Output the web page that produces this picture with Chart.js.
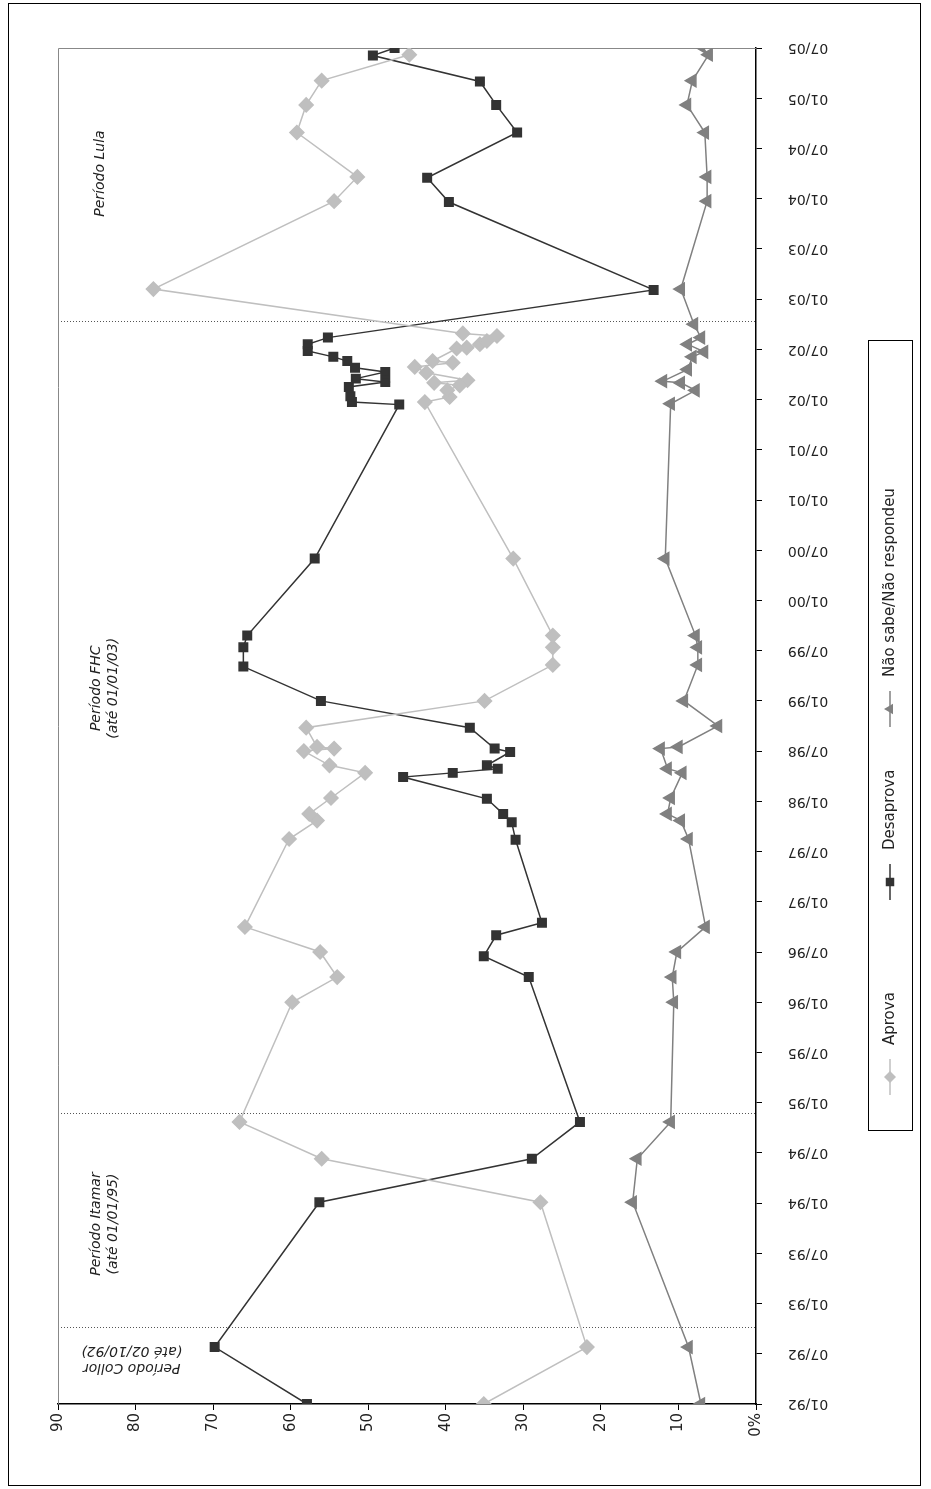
<!DOCTYPE html>
<html>
<head>
<meta charset="utf-8">
<script src="https://cdn.jsdelivr.net/npm/chart.js@4"></script>
<style>
  html, body { margin: 0; padding: 0; background: #fff; }
  #wrap { width: 931px; height: 1489px; position: relative; }
</style>
</head>
<body>
<div id="wrap"><canvas id="grafico"></canvas></div>
<script>
// meses contados a partir de 01/92
const mesesAprova = [0, 6.8, 24.1, 29.3, 33.7, 48, 51, 54, 57, 67.5, 69.7, 70.5, 72.4, 75.4, 76.3, 78, 78.3, 78.5, 80.8, 84, 88.3, 90.4, 91.8, 101,
  119.7, 120.3, 121.1, 121.7, 122, 122.3, 123.2, 123.9, 124.4, 124.6, 126.1, 126.2, 126.6, 127, 127.6, 127.9, 133.2, 143.7, 146.6, 151.9, 155.2, 158.1, 161.2];
const aprova = [35.1, 21.8, 27.8, 56, 66.6, 59.8, 54, 56.2, 65.9, 60.2, 56.6, 57.6, 54.8, 50.4, 55, 58.3, 54.4, 56.6, 58, 35, 26.2, 26.2, 26.2, 31.3,
  42.7, 39.5, 39.8, 38.2, 41.5, 37.2, 42.5, 44, 39.1, 41.7, 38.6, 37.3, 35.6, 34.7, 33.4, 37.8, 77.7, 54.4, 51.4, 59.2, 58, 56, 44.7];

const mesesDesaprova = [0, 6.8, 24.1, 29.3, 33.7, 51, 53.5, 56, 57.5, 67.4, 69.5, 70.5, 72.3, 74.9, 75.4, 75.9, 76.3, 77.9, 78.3, 80.8, 84, 88.1, 90.4, 91.8, 101,
  119.4, 119.7, 120.4, 121.5, 122.1, 122.5, 123.3, 123.8, 124.6, 125.1, 125.8, 126.6, 127.4, 133.1, 143.6, 146.5, 151.9, 155.2, 158, 161.1, 162];
const desaprova = [57.9, 69.8, 56.3, 28.9, 22.7, 29.3, 35.1, 33.5, 27.6, 31, 31.5, 32.6, 34.7, 45.5, 39.1, 33.3, 34.7, 31.7, 33.7, 36.9, 56.1, 66.1, 66.1, 65.6, 56.9,
  46, 52.1, 52.3, 52.5, 47.8, 51.6, 47.8, 51.7, 52.7, 54.5, 57.8, 57.8, 55.2, 13.2, 39.6, 42.4, 30.8, 33.5, 35.6, 49.4, 46.6];

const mesesNaoSabe = [0, 6.8, 24.1, 29.3, 33.7, 48, 51, 54, 57, 67.5, 69.7, 70.5, 72.4, 75.4, 75.9, 78.3, 78.5, 81, 84, 88.3, 90.4, 91.8, 101,
  119.5, 121.1, 122, 122.2, 123.6, 125.1, 125.7, 126.6, 127.4, 129, 133.2, 143.7, 146.6, 151.9, 155.2, 158.1, 161.2, 162.2];
const naoSabe = [7.1, 8.7, 15.9, 15.3, 11, 10.6, 10.8, 10.2, 6.5, 8.7, 9.7, 11.4, 11, 9.5, 11.4, 12.3, 10, 4.9, 9.3, 7.5, 7.5, 7.8, 11.7,
  11, 7.8, 9.7, 12, 8.8, 8.2, 6.7, 8.8, 7.1, 8, 9.7, 6.3, 6.3, 6.6, 8.9, 8.2, 6.1, 7.1];

const rotulosDatas = [];
for (let a = 92; a <= 105; a++) {
  const aa = String(a % 100).padStart(2, '0');
  rotulosDatas.push('01/' + aa, '07/' + aa);
}
const limitesPeriodos = [9.2, 34.8, 129.4];
const periodos = [
  { linhas: ['Período Collor', '(até 02/10/92)'], mes: 5.3, valor: 80.5, giro: Math.PI },
  { linhas: ['Período Itamar', '(até 01/01/95)'], mes: 21.5, valor: 84, giro: -Math.PI / 2 },
  { linhas: ['Período FHC', '(até 01/01/03)'], mes: 85.5, valor: 84, giro: -Math.PI / 2 },
  { linhas: ['Período Lula'], mes: 147, valor: 84.5, giro: -Math.PI / 2 }
];

const juntar = (meses, vals) => meses.map((m, i) => ({ x: vals[i], y: m }));

const COR_APROVA = '#bfbfbf', COR_DESAPROVA = '#333333', COR_NS = '#808080';

const decoracao = {
  id: 'decoracao',
  beforeDatasetsDraw(chart) {
    const { ctx, chartArea: ca, scales } = chart;
    ctx.save();
    // linhas dos períodos
    ctx.strokeStyle = '#555';
    ctx.lineWidth = 1;
    ctx.setLineDash([1, 2]);
    limitesPeriodos.forEach(m => {
      const y = Math.round(scales.y.getPixelForValue(m)) + 0.5;
      ctx.beginPath(); ctx.moveTo(ca.left, y); ctx.lineTo(ca.right, y); ctx.stroke();
    });
    ctx.setLineDash([]);
    // moldura
    ctx.strokeStyle = '#888';
    ctx.beginPath();
    ctx.moveTo(ca.left + 0.5, ca.bottom); ctx.lineTo(ca.left + 0.5, ca.top + 0.5); ctx.lineTo(ca.right, ca.top + 0.5);
    ctx.stroke();
    ctx.strokeStyle = '#000';
    ctx.strokeRect(8.5, 3.5, 912, 1482);
    ctx.restore();
  },
  afterDraw(chart) {
    const { ctx, chartArea: ca, scales } = chart;
    ctx.save();
    // rótulos das datas (de cabeça para baixo)
    ctx.fillStyle = '#222';
    ctx.font = '14px "DejaVu Sans"';
    ctx.textAlign = 'center';
    ctx.textBaseline = 'middle';
    rotulosDatas.forEach((t, i) => {
      const y = scales.y.getPixelForValue(i * 6);
      ctx.save();
      ctx.translate(ca.right + 52, y);
      ctx.rotate(Math.PI);
      ctx.fillText(t, 0, 0);
      ctx.restore();
    });
    // textos dos períodos
    ctx.font = 'italic 14px "DejaVu Sans"';
    periodos.forEach(p => {
      ctx.save();
      ctx.translate(scales.x.getPixelForValue(p.valor), scales.y.getPixelForValue(p.mes));
      ctx.rotate(p.giro);
      p.linhas.forEach((l, k) => ctx.fillText(l, 0, (k - (p.linhas.length - 1) / 2) * 17));
      ctx.restore();
    });
    // legenda
    ctx.strokeStyle = '#000';
    ctx.lineWidth = 1;
    ctx.strokeRect(868.5, 340.5, 44, 790);
    ctx.font = '15px "DejaVu Sans"';
    ctx.textAlign = 'left';
    const itens = [
      { nome: 'Aprova', cor: COR_APROVA, estilo: 'rectRot', y0: 1095 },
      { nome: 'Desaprova', cor: COR_DESAPROVA, estilo: 'rect', y0: 900 },
      { nome: 'Não sabe/Não respondeu', cor: COR_NS, estilo: 'triangle', y0: 727 }
    ];
    itens.forEach(it => {
      const cx = 890;
      ctx.strokeStyle = it.cor; ctx.lineWidth = 1.5;
      ctx.beginPath(); ctx.moveTo(cx, it.y0); ctx.lineTo(cx, it.y0 - 36); ctx.stroke();
      ctx.fillStyle = it.cor;
      Chart.helpers.drawPoint(ctx, { pointStyle: it.estilo, radius: 6, rotation: it.estilo === 'triangle' ? -90 : 0 }, cx, it.y0 - 18);
      ctx.save();
      ctx.fillStyle = '#222';
      ctx.translate(cx, it.y0 - 50);
      ctx.rotate(-Math.PI / 2);
      ctx.fillText(it.nome, 0, 0);
      ctx.restore();
    });
    ctx.restore();
  }
};

const serie = (label, dados, cor, estilo, raio, rot) => ({
  label, data: dados, borderColor: cor, backgroundColor: cor,
  pointBackgroundColor: cor, pointBorderColor: cor, pointStyle: estilo,
  pointRadius: raio, pointRotation: rot, borderWidth: 1.5, tension: 0
});

new Chart(document.getElementById('grafico'), {
  type: 'line',
  data: {
    datasets: [
      serie('Aprova', juntar(mesesAprova, aprova), COR_APROVA, 'rectRot', 7, 0),
      serie('Desaprova', juntar(mesesDesaprova, desaprova), COR_DESAPROVA, 'rect', 6, 0),
      serie('Não sabe/Não respondeu', juntar(mesesNaoSabe, naoSabe), COR_NS, 'triangle', 7, -90)
    ]
  },
  options: {
    indexAxis: 'y',
    responsive: true,
    maintainAspectRatio: false,
    animation: false,
    layout: { padding: { left: 58, top: 48, right: 0, bottom: 0 } },
    plugins: { legend: { display: false }, tooltip: { enabled: false } },
    scales: {
      x: {
        type: 'linear', reverse: true, min: 0, max: 90, position: 'bottom',
        afterFit: s => { s.height = 85; },
        border: { color: '#000', width: 1.5 },
        grid: { drawOnChartArea: false, tickLength: 6, color: '#000' },
        ticks: {
          stepSize: 10, minRotation: 90, maxRotation: 90, color: '#222',
          font: { family: 'DejaVu Sans', size: 15 },
          callback: v => v === 0 ? '0%' : v
        }
      },
      y: {
        type: 'linear', min: 0, max: 162, position: 'right',
        afterFit: s => { s.width = 931 - 756; },
        border: { color: '#000', width: 1.5 },
        grid: { drawOnChartArea: false, tickLength: 6, color: '#000' },
        afterBuildTicks: s => { s.ticks = rotulosDatas.map((_, i) => ({ value: i * 6 })); },
        ticks: { display: false }
      }
    }
  },
  plugins: [decoracao]
});
</script>
</body>
</html>
